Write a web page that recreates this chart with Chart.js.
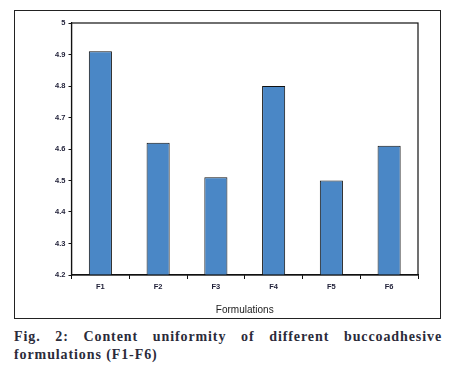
<!DOCTYPE html>
<html>
<head>
<meta charset="utf-8">
<script src="https://cdn.jsdelivr.net/npm/chart.js@4"></script>
<style>
  body { margin: 0; background: #fff; width: 451px; height: 371px; overflow: hidden; position: relative; }
  #box { position: absolute; left: 14px; top: 10px; width: 425px; height: 307px; border: 1px solid #222; }
  #wrap { position: absolute; left: 0; top: 0; width: 451px; height: 320px; }
  #caption {
    position: absolute; left: 14px; top: 328px; width: 428px;
    font-family: "Liberation Serif", "DejaVu Serif", serif; font-weight: bold;
    font-size: 14px; line-height: 18px; color: #2b2b3a; letter-spacing: 0.9px;
    text-align: justify;
  }
</style>
</head>
<body>
<div id="box"></div>
<div id="wrap"><canvas id="myChart"></canvas></div>
<div id="caption">Fig. 2: Content uniformity of different buccoadhesive formulations (F1-F6)</div>
<script>
const labels = ['F1', 'F2', 'F3', 'F4', 'F5', 'F6'];
const values = [4.91, 4.62, 4.51, 4.80, 4.50, 4.61];
const yTicks = [4.2, 4.3, 4.4, 4.5, 4.6, 4.7, 4.8, 4.9, 5];

const frame = {
    id: 'frame',
    afterDatasetsDraw(chart) {
        const { ctx, chartArea: a } = chart;
        ctx.save();
        ctx.strokeStyle = '#111';
        ctx.lineWidth = 1.2;
        ctx.strokeRect(a.left, a.top, a.right - a.left, a.bottom - a.top);
        ctx.restore();
    }
};

const tickFont = { family: '"Liberation Sans", Arial, sans-serif', size: 7.5, weight: 'bold' };

new Chart(document.getElementById('myChart'), {
    type: 'bar',
    data: {
        labels: labels,
        datasets: [{
            data: values,
            backgroundColor: '#4a87c6',
            borderColor: '#111',
            borderWidth: 1,
            categoryPercentage: 1,
            barPercentage: 0.4
        }]
    },
    options: {
        responsive: true,
        maintainAspectRatio: false,
        animation: false,
        layout: { padding: { left: 0, right: 33, top: 23, bottom: 4 } },
        plugins: { legend: { display: false }, tooltip: { enabled: false } },
        scales: {
            x: {
                afterFit: s => { s.height = 41; },
                grid: { display: true, offset: true, drawOnChartArea: false, color: '#111', tickLength: 4 },
                border: { display: true, color: '#111', width: 1.2 },
                ticks: { color: '#22223a', font: tickFont, padding: 3 },
                title: {
                    display: true, text: 'Formulations', color: '#222',
                    font: { family: '"Liberation Sans", Arial, sans-serif', size: 10 },
                    padding: { top: 3, bottom: 0 }
                }
            },
            y: {
                min: 4.2,
                max: 5,
                afterFit: s => { s.width = 71.5; },
                afterBuildTicks: s => { s.ticks = yTicks.map(v => ({ value: v })); },
                grid: { display: true, drawOnChartArea: false, color: '#111', tickLength: 3 },
                border: { display: true, color: '#111', width: 1.2 },
                ticks: { color: '#22223a', font: tickFont, padding: 3, callback: v => String(v) }
            }
        }
    },
    plugins: [frame]
});
</script>
</body>
</html>
